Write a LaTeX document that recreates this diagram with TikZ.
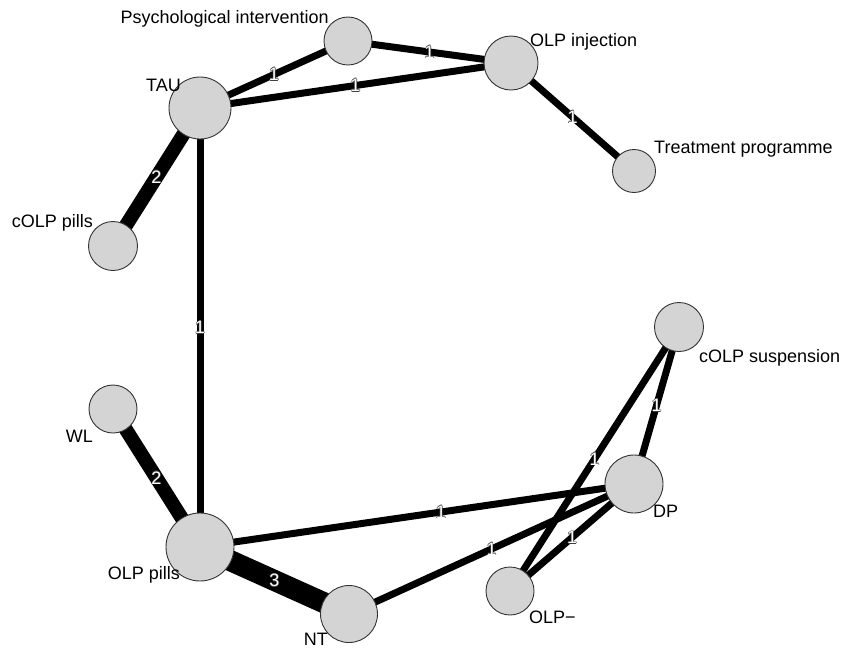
\documentclass[tikz,border=0pt]{standalone}
\usepackage{fontspec}
\setmainfont{Liberation Sans}
\pgfdeclarelayer{background}
\pgfsetlayers{background,main}
\newcommand\ringed[1]{\leavevmode
  \rlap{\color{black!75}\kern-0.7pt#1}\rlap{\color{black!75}\kern0.7pt#1}%
  \rlap{\color{black!75}\raisebox{0.7pt}{#1}}\rlap{\color{black!75}\raisebox{-0.7pt}{#1}}%
  {\color{white}#1}}
\tikzset{
  arm/.style={circle,draw=black!80,line width=0.9pt,fill=black!17,inner sep=0pt,minimum size=#1},
  lbl/.style={font=\fontsize{18}{21}\selectfont,inner sep=0pt},
  link/.style={line width=#1},
  cnt/.style={midway,font=\fontsize{18}{21}\selectfont,inner sep=0pt},
}

\begin{document}
\begin{tikzpicture}[x=1pt,y=-1pt]
  \useasboundingbox (0,0) rectangle (846,649);
  \node[arm=48] (psych) at (348,41) {};
  \node[arm=54] (olpinj) at (511,63) {};
  \node[arm=62] (tau) at (200,108) {};
  \node[arm=43] (treat) at (634,171) {};
  \node[arm=49] (colppills) at (113,246) {};
  \node[arm=49] (colpsusp) at (679,327) {};
  \node[arm=48] (wl) at (113,409) {};
  \node[arm=58] (dp) at (634,484) {};
  \node[arm=68] (olppills) at (200,547) {};
  \node[arm=57] (nt) at (349,614) {};
  \node[arm=48] (olpneg) at (510,591) {};

  \node[lbl,anchor=base east] (psych-l) at (329,23) {Psychological intervention};
  \node[lbl,anchor=base west] (olpinj-l) at (530,46) {OLP injection};
  \node[lbl,anchor=base east] (tau-l) at (181,91) {TAU};
  \node[lbl,anchor=base west] (treat-l) at (654,153) {Treatment programme};
  \node[lbl,anchor=base east] (colppills-l) at (93,227) {cOLP pills};
  \node[lbl,anchor=base west] (colpsusp-l) at (699,362) {cOLP suspension};
  \node[lbl,anchor=base east] (wl-l) at (93,442) {WL};
  \node[lbl,anchor=base west] (dp-l) at (653,517) {DP};
  \node[lbl,anchor=base east] (olppills-l) at (180,579) {OLP pills};
  \node[lbl,anchor=base east] (nt-l) at (328,645) {NT};
  \node[lbl,anchor=base west] (olpneg-l) at (529,623) {OLP−};

  \begin{pgfonlayer}{background}
    \draw[link=7] (tau.center) -- node[cnt] {\ringed{1}} (psych.center);
    \draw[link=7] (psych.center) -- node[cnt] {\ringed{1}} (olpinj.center);
    \draw[link=7] (tau.center) -- node[cnt] {\ringed{1}} (olpinj.center);
    \draw[link=7] (olpinj.center) -- node[cnt] {\ringed{1}} (treat.center);
    \draw[link=14] (tau.center) -- node[cnt] {\ringed{2}} (colppills.center);
    \draw[link=7] (tau.center) -- node[cnt] {\ringed{1}} (olppills.center);
    \draw[link=14] (wl.center) -- node[cnt] {\ringed{2}} (olppills.center);
    \draw[link=21] (olppills.center) -- node[cnt] {\ringed{3}} (nt.center);
    \draw[link=7] (olppills.center) -- node[cnt,pos=0.555] {\ringed{1}} (dp.center);
    \draw[link=7] (nt.center) -- node[cnt] {\ringed{1}} (dp.center);
    \draw[link=7] (dp.center) -- node[cnt] {\ringed{1}} (olpneg.center);
    \draw[link=7] (colpsusp.center) -- node[cnt] {\ringed{1}} (dp.center);
    \draw[link=7] (colpsusp.center) -- node[cnt] {\ringed{1}} (olpneg.center);
  \end{pgfonlayer}
\end{tikzpicture}
\end{document}
